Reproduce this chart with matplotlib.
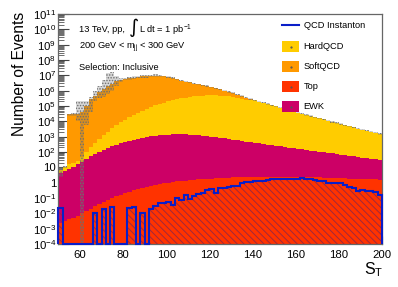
import numpy as np
import matplotlib
matplotlib.use('Agg')
import matplotlib.pyplot as plt
from matplotlib.ticker import LogLocator, FixedLocator, FuncFormatter, NullFormatter, MultipleLocator

plt.rcParams['font.family'] = ['Liberation Sans', 'DejaVu Sans']
plt.rcParams['mathtext.fontset'] = 'custom'
plt.rcParams['mathtext.rm'] = 'Liberation Sans'
plt.rcParams['mathtext.it'] = 'Liberation Sans:italic'
plt.rcParams['mathtext.bf'] = 'Liberation Sans:bold'
plt.rcParams['hatch.linewidth'] = 0.7

# ---------------- data (75 bins of 2 GeV from 50 to 200) ----------------
x_min, x_max, bin_width = 50, 200, 2

top = [2.5e-3, 3.2e-3, 4.0e-3, 5.2e-3, 7.1e-3, 1.0e-2, 1.4e-2, 2.0e-2, 2.8e-2, 4.0e-2,
       5.4e-2, 7.2e-2, 9.5e-2, 0.126, 0.162, 0.21, 0.26, 0.32, 0.39, 0.47,
       0.55, 0.63, 0.72, 0.81, 0.91, 1.0, 1.10, 1.20, 1.29, 1.38,
       1.48, 1.55, 1.62, 1.70, 1.78, 1.86, 1.95, 2.04, 2.09, 2.14,
       2.24, 2.29, 2.34, 2.40, 2.40, 2.45, 2.45, 2.51, 2.51, 2.51,
       2.51, 2.51, 2.51, 2.45, 2.45, 2.40, 2.40, 2.34, 2.29, 2.24,
       2.19, 2.14, 2.09, 2.04, 2.0, 1.95, 1.91, 1.86, 1.82, 1.78,
       1.74, 1.70, 1.66, 1.62, 1.58]

ewk = [4.0, 5.6, 7.9, 11.2, 15.8, 24, 35, 52, 76, 105,
       141, 186, 240, 302, 371, 447, 537, 631, 724, 832,
       933, 1047, 1148, 1230, 1318, 1380, 1412, 1445, 1445, 1412,
       1380, 1318, 1259, 1175, 1096, 1000, 912, 832, 759, 692,
       631, 575, 525, 479, 437, 398, 363, 331, 302, 275,
       251, 229, 209, 191, 174, 158, 145, 132, 120, 110,
       100, 91, 85, 79, 72, 66, 60, 55, 50, 46,
       42, 38, 35, 32, 29]

hardqcd = [2.3, 4.4, 7.9, 8.8, 12, 26, 65, 148, 322, 603,
           1118, 1809, 3308, 5321, 8542, 12142, 17246, 24488, 34757, 47031,
           62163, 8.3e4, 1.07e5, 1.32e5, 1.58e5, 2.0e5, 2.4e5, 2.82e5, 3.16e5, 3.55e5,
           3.98e5, 4.27e5, 4.57e5, 4.79e5, 5.0e5, 5.0e5, 4.9e5, 4.8e5, 4.47e5, 4.17e5,
           3.8e5, 3.39e5, 3.02e5, 2.63e5, 2.5e5, 2.3e5, 1.94e5, 1.62e5, 1.35e5, 1.12e5,
           9.3e4, 7.8e4, 6.5e4, 5.4e4, 4.5e4, 3.7e4, 3.2e4, 2.6e4, 2.2e4, 1.86e4,
           1.58e4, 1.32e4, 1.12e4, 9.2e3, 7.8e3, 6.5e3, 5.5e3, 4.6e3, 3.95e3, 3.35e3,
           2.85e3, 2.46e3, 2.06e3, 1.77e3, 1.47e3]

softqcd = [0, 0, 2.8e4, 2.8e4, 3.2e4, 4.0e4, 1.0e5, 2.8e5, 4.5e5, 7.9e5,
           1.26e6, 2.0e6, 2.8e6, 4.0e6, 5.0e6, 5.75e6, 6.3e6, 7.05e6, 7.9e6, 8.5e6,
           8.85e6, 9.2e6, 9.4e6, 9.2e6, 8.7e6, 7.7e6, 6.4e6, 5.2e6, 4.25e6, 3.6e6,
           3.07e6, 2.5e6, 2.2e6, 1.8e6, 1.5e6, 1.16e6, 9.2e5, 7.2e5, 5.5e5, 4.1e5,
           3.1e5, 2.2e5, 1.6e5, 9e4, 3.2e4, 4e3, 2e3, 1e3, 0, 0,
           0, 0, 0, 0, 0, 0, 0, 0, 0, 0,
           0, 0, 0, 0, 0, 0, 0, 0, 0, 0,
           0, 0, 0, 0, 0]

instanton = [0.022, 0, 0, 0, 0, 0, 0, 0, 0.011, 0,
             0.019, 0, 0.025, 0, 0, 0, 0.022, 0.025, 0, 0.011,
             0, 0.019, 0.030, 0.045, 0.050, 0.058, 0.035, 0.095, 0.075, 0.16,
             0.085, 0.14, 0.18, 0.20, 0.35, 0.38, 0.20, 0.45, 0.47, 0.50,
             0.60, 0.63, 0.93, 1.12, 1.15, 1.20, 1.20, 1.26, 1.41, 1.66,
             1.74, 1.74, 1.78, 1.82, 1.82, 1.86, 2.0, 1.74, 1.66, 1.58,
             1.32, 1.26, 1.0, 1.0, 0.89, 0.89, 0.71, 0.54, 0.45, 0.28,
             0.32, 0.28, 0.28, 0.25, 0.16]

# relative statistical uncertainty of the total stack (upward / downward)
unc_up = [0.6, 0.15, 0.15, 0.2, 6.1, 4.6, 1.24, 0.41, 1.24, 1.5,
          3.0, 6.1, 4.6, 1.24, 0.4, 0.2, 0.2, 0.2, 0.2, 0.2,
          0.2, 0.2, 0.2, 0.2] + [0.1] * 51
unc_dn = [0.65, 0.15, 0.15, 0.2, 0.68, 1.0, 0.94, 0.86, 0.5, 0.6,
          0.7, 0.68, 0.65, 0.5, 0.3, 0.2, 0.2, 0.2, 0.2, 0.2,
          0.2, 0.2, 0.2, 0.2] + [0.1] * 51

y_min, y_max = 1e-4, 1e11

# ---------------- figure ----------------
W, H = 398, 287
fig = plt.figure(figsize=(W / 100, H / 100), dpi=100)
L, R, T, B = 58.4, 382.0, 14.0, 244.0
ax = fig.add_axes([L / W, 1 - B / H, (R - L) / W, (B - T) / H])
ax.set_yscale('log')
ax.set_xlim(x_min, x_max)
ax.set_ylim(y_min, y_max)
ax.set_axisbelow(True)

edges = np.arange(x_min, x_max + bin_width, bin_width)
layers = [np.array(top), np.array(ewk), np.array(hardqcd), np.array(softqcd)]
colors = ['#ff3300', '#cc0066', '#ffcc00', '#ff9900']
cum = np.cumsum(layers, axis=0)
base = np.full(len(top), 1e-6)
for c, col in zip(cum, colors):
    ax.stairs(c, edges, baseline=base, fill=True, facecolor=col, edgecolor='none',
              linewidth=0, zorder=1)
    base = c

total = cum[-1]
band_hi = total * (1 + np.array(unc_up))
band_lo = np.maximum(total * (1 - np.array(unc_dn)), 1e-6)
ax.stairs(band_hi, edges, baseline=band_lo, fill=True, facecolor=(0.45, 0.45, 0.45, 0.28),
          edgecolor='#6e6e6e', hatch='......', linewidth=0, zorder=2)

inst = np.array(instanton)
inst_floor = np.maximum(inst, y_min)
ax.stairs(inst_floor, edges, baseline=1e-6, fill=True, facecolor='none',
          edgecolor='#a0283c', hatch='\\\\\\\\\\', linewidth=0, zorder=3)
ax.stairs(inst_floor, edges, baseline=y_min, fill=False, color='#0a1ec8',
          linewidth=1.5, zorder=4, clip_on=False)

# ---------------- axes styling ----------------
ax.yaxis.set_major_locator(LogLocator(base=10, numticks=30))
ax.yaxis.set_minor_locator(LogLocator(base=10, subs=np.arange(2, 10), numticks=200))
ax.yaxis.set_minor_formatter(NullFormatter())


def yfmt(v, pos):
    e = int(round(np.log10(v)))
    if e == 0:
        return '1'
    if e == 1:
        return '10'
    return r'$10^{%d}$' % e


ax.yaxis.set_major_formatter(FuncFormatter(yfmt))
ax.xaxis.set_major_locator(FixedLocator([60, 80, 100, 120, 140, 160, 180, 200]))
ax.xaxis.set_minor_locator(MultipleLocator(4))
ax.tick_params(axis='y', which='major', direction='in', length=8, width=0.8,
               color='#444444', labelsize=8.2, pad=1.5)
ax.tick_params(axis='y', which='minor', direction='in', length=4, width=0.6,
               color='#555555')
ax.tick_params(axis='x', which='major', direction='in', length=6, width=0.8,
               labelsize=8.2, pad=4)
ax.tick_params(axis='x', which='minor', direction='in', length=3)
for s in ax.spines.values():
    s.set_color('#666666')
    s.set_linewidth(0.9)


def axpos(px, py):
    return (px - L) / (R - L), (B - py) / (B - T)


# texts
fs_txt = 6.7
ax.text(*axpos(79, 30), '13 TeV, pp,', fontsize=fs_txt,
        ha='left', va='center', transform=ax.transAxes)
ax.text(*axpos(128.5, 27.5), '\u222b', fontsize=14, family='DejaVu Sans',
        ha='left', va='center', transform=ax.transAxes)
ax.text(*axpos(139, 30), r'L dt = 1 pb$^{-1}$', fontsize=fs_txt,
        ha='left', va='center', transform=ax.transAxes)
ax.text(*axpos(79, 48), r'200 GeV < m$_{\mathrm{jj}}$ < 300 GeV', fontsize=fs_txt,
        ha='left', va='center', transform=ax.transAxes)
ax.text(*axpos(79, 67), 'Selection: Inclusive', fontsize=fs_txt,
        ha='left', va='center', transform=ax.transAxes)

# legend (manual, ROOT-like)
leg_labels = ['QCD Instanton', 'HardQCD', 'SoftQCD', 'Top', 'EWK']
leg_y = [25, 46.5, 66.5, 86.5, 106.5]
bx0, bx1 = 282, 299
x0, _ = axpos(bx0, 0)
x1, _ = axpos(bx1, 0)
for lab, py, i in zip(leg_labels, leg_y, range(5)):
    _, yc = axpos(0, py)
    if i == 0:
        ax.plot([x0, x1], [yc, yc], transform=ax.transAxes, color='#0a1ec8',
                lw=1.5, zorder=6)
    else:
        _, yb = axpos(0, py + 5.5)
        _, yt = axpos(0, py - 5.5)
        ax.add_patch(plt.Rectangle((x0, yb), x1 - x0, yt - yb, transform=ax.transAxes,
                                   facecolor=colors[[None, 2, 3, 0, 1][i]],
                                   edgecolor='none', zorder=6))
        ax.plot([(x0 + x1) / 2], [yc], transform=ax.transAxes, marker='.',
                markersize=1.2, color='#555555', zorder=7)
    ax.text(*axpos(303.5, py), lab, fontsize=fs_txt, ha='left', va='center',
            transform=ax.transAxes, zorder=7)

# axis titles
fig.text(19.5 / W, 1 - 74 / H, 'Number of Events', rotation=90, fontsize=11.2,
         ha='center', va='center')
fig.text(374 / W, 1 - 270 / H, r'S$_{\mathrm{T}}$', fontsize=11.5,
         ha='center', va='center')

fig.savefig('out.png', dpi=100)
